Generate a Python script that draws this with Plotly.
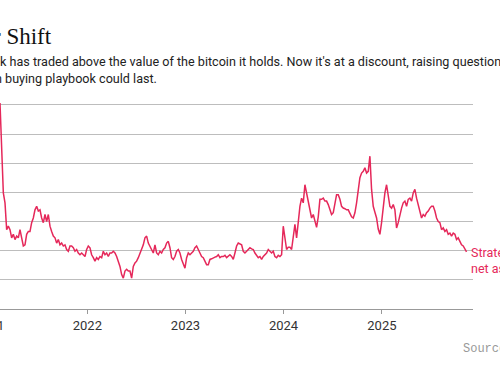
import pandas as pd
import plotly.graph_objects as go

# Premium of Strategy's market value to its bitcoin holdings (ratio)
premium = [
    3.53, 2.62, 1.99, 1.82, 1.36, 1.42, 1.36, 1.22, 1.28, 1.19,
    1.25, 1.22, 1.36, 1.22, 1.08, 1.10, 1.28, 1.33, 1.33, 1.48,
    1.56, 1.70, 1.76, 1.68, 1.70, 1.56, 1.48, 1.62, 1.50, 1.62,
    1.42, 1.33, 1.25, 1.22, 1.13, 1.19, 1.10, 1.13, 1.08, 1.10,
    1.02, 0.99, 1.08, 1.08, 1.05, 0.99, 1.02, 0.96, 0.93, 0.96,
    0.93, 0.90, 1.02, 1.08, 1.05, 0.93, 0.88, 0.82, 0.88, 0.85,
    0.90, 0.88, 0.99, 0.93, 0.96, 0.90, 0.96, 0.96, 0.99, 0.96,
    0.90, 0.82, 0.73, 0.59, 0.53, 0.65, 0.68, 0.65, 0.65, 0.53,
    0.73, 0.79, 0.82, 0.88, 0.96, 1.02, 1.10, 1.22, 1.25, 1.13,
    1.08, 1.02, 0.96, 1.10, 0.96, 0.93, 0.99, 0.96, 1.02, 1.05,
    1.13, 1.16, 1.05, 0.88, 0.85, 0.90, 0.99, 1.02, 0.96, 0.85,
    0.76, 0.70, 0.88, 0.96, 0.93, 0.96, 0.99, 1.05, 1.08, 1.02,
    0.96, 0.90, 0.88, 0.82, 0.76, 0.76, 0.85, 0.86, 0.88, 0.89,
    0.90, 0.93, 0.88, 0.90, 0.90, 0.92, 0.88, 0.90, 0.93, 0.90,
    0.85, 0.96, 1.08, 1.13, 1.12, 1.10, 0.99, 0.96, 0.99, 1.02,
    1.05, 1.03, 1.02, 0.96, 0.92, 0.88, 0.90, 0.85, 0.90, 0.93,
    0.96, 1.02, 0.99, 0.96, 0.99, 0.90, 0.88, 0.92, 0.90, 0.93,
    1.42, 1.22, 1.02, 1.06, 1.06, 1.02, 1.25, 1.45, 1.22, 1.48,
    1.76, 1.90, 1.82, 2.13, 1.99, 1.82, 1.70, 1.56, 1.62, 1.50,
    1.40, 1.58, 1.88, 1.88, 1.90, 1.85, 1.85, 1.79, 1.70, 1.62,
    1.65, 1.85, 1.96, 1.96, 1.88, 1.76, 1.73, 1.72, 1.70, 1.70,
    1.65, 1.58, 1.56, 1.65, 1.82, 2.05, 2.25, 2.33, 2.36, 2.42,
    2.33, 2.36, 2.62, 2.05, 1.76, 1.66, 1.56, 1.37, 1.28, 1.48,
    1.79, 1.99, 2.13, 1.93, 1.76, 1.73, 1.79, 1.70, 1.39, 1.48,
    1.62, 1.73, 1.82, 1.85, 1.76, 1.88, 1.90, 1.85, 1.99, 2.05,
    1.90, 1.79, 1.68, 1.56, 1.62, 1.59, 1.65, 1.68, 1.73, 1.76,
    1.76, 1.68, 1.56, 1.50, 1.48, 1.36, 1.39, 1.33, 1.36, 1.28,
    1.30, 1.25, 1.30, 1.28, 1.19, 1.22, 1.16, 1.10, 1.08, 1.02,
    0.98,
]
first_date = "2021-02-10"
last_date = "2025-11-12"
dates = pd.date_range(first_date, last_date, periods=len(premium))

year_ticks = ["2022-01-01", "2023-01-01", "2024-01-01", "2025-01-01"]
year_labels = ["2022", "2023", "2024", "2025"]
grid_values = [0.5, 1.0, 1.5, 2.0, 2.5, 3.0, 3.5]

RED = "#e5285a"
SANS = "Roboto, Lato, sans-serif"

fig = go.Figure()
fig.add_trace(go.Scatter(
    x=dates, y=premium, mode="lines",
    line=dict(color=RED, width=1.5),
    hoverinfo="skip", showlegend=False,
))

fig.update_layout(
    width=500, height=383,
    margin=dict(l=0, r=27, t=99.3, b=73.5),
    paper_bgcolor="white", plot_bgcolor="white",
    font=dict(family=SANS, size=13, color="#333"),
    xaxis=dict(
        range=["2021-02-10", "2025-12-06"],
        tickvals=year_ticks, ticktext=year_labels,
        ticks="outside", ticklen=4, tickcolor="#999", tickwidth=1,
        showgrid=False, showline=True, linecolor="#999", linewidth=1,
        tickfont=dict(family=SANS, size=13, color="#333"),
        zeroline=False,
    ),
    yaxis=dict(
        range=[0, 3.6], tickvals=grid_values, showticklabels=False,
        showgrid=True, gridcolor="#bdbdbd", gridwidth=1,
        zeroline=False, showline=False, ticks="",
    ),
)

anns = [
    dict(text="r Shift", x=-9 / 473, y=37, font=dict(family="Liberation Serif, serif", size=23, color="#111")),
    dict(text="k has traded above the value of the bitcoin it holds. Now it's at a discount, raising questions",
         x=-2 / 473, y=62, font=dict(family=SANS, size=12.6, color="#222")),
    dict(text="n buying playbook could last.", x=-7 / 473, y=79,
         font=dict(family=SANS, size=12.6, color="#222")),
    dict(text="Source:", x=461 / 473, y=350,
         font=dict(family="Liberation Mono, DejaVu Sans Mono, monospace", size=12, color="#999")),
]
for a in anns:
    fig.add_annotation(
        text=a["text"], xref="paper", yref="paper",
        x=a["x"], y=(309.5 - a["y"]) / 210.2,
        xanchor="left", yanchor="middle", showarrow=False, font=a["font"],
    )

# partially visible 2021 label at the left edge
fig.add_annotation(
    text="2021", xref="paper", yref="paper", x=-10.8 / 473, y=0,
    xanchor="center", yanchor="middle", yshift=-16, showarrow=False,
    font=dict(family=SANS, size=13, color="#333"),
)

# series label at line end
fig.add_annotation(
    text="Strategy's premium to<br>net asset value", xref="x", yref="y",
    x=dates[-1], y=premium[-1], xanchor="left", yanchor="top",
    xshift=2, yshift=9, align="left", showarrow=False,
    font=dict(family=SANS, size=12.5, color=RED),
)

fig.write_html("out.html", config={"displayModeBar": False},
               post_script="document.body.style.margin='0';")
